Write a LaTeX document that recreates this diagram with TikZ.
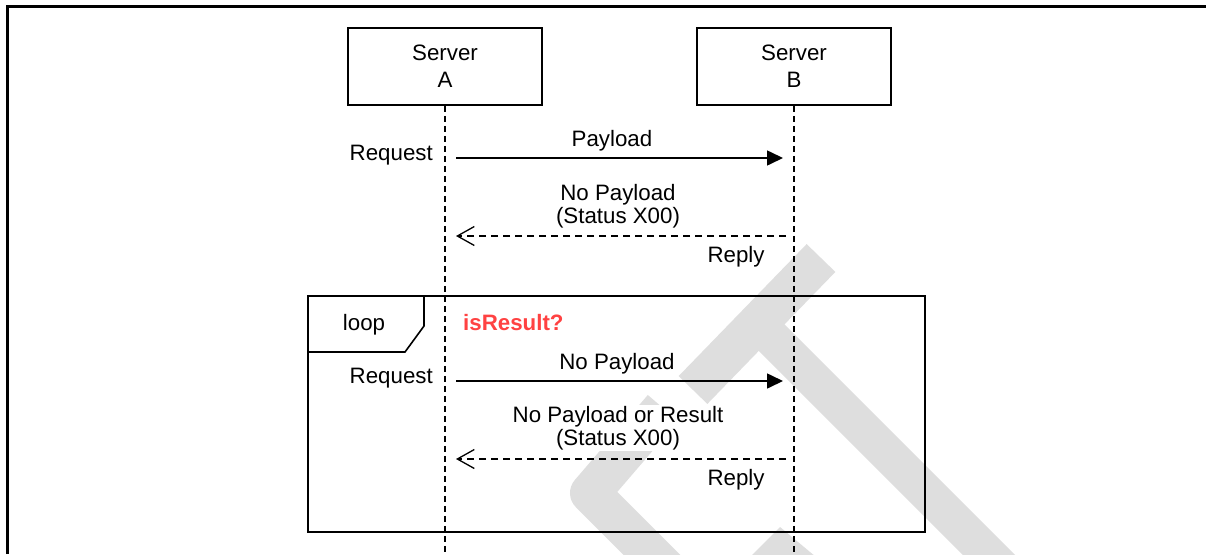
\documentclass[tikz,border=0pt]{standalone}
\usepackage{fontspec}
\setmainfont{Liberation Sans}
\usetikzlibrary{arrows.meta}
\definecolor{wm}{RGB}{222,222,222}
\definecolor{cond}{RGB}{255,66,66}
\begin{document}
\begin{tikzpicture}[x=1pt,y=-1pt,
  every node/.style={font=\fontsize{22.3}{23}\selectfont, inner sep=1pt},
  srv/.style={draw, line width=1.6pt, minimum width=194pt, minimum height=77pt, align=center, font=\fontsize{22.3}{27}\selectfont},
  life/.style={line width=1.6pt, dash pattern=on 6pt off 4pt},
  msg/.style={line width=1.6pt, -{Triangle[length=16pt,width=15pt]}},
  rep/.style={line width=1.6pt, dash pattern=on 7pt off 5pt, -{Straight Barb[length=17pt,width=19pt,line width=1.3pt]}},
  lbl/.style={fill=white, align=center},
  wmband/.style={wm, line width=40pt, line cap=butt}]
\useasboundingbox (0,0) rectangle (1206,554);
% watermark
\begin{scope}
\clip (0,0) rectangle (1206,554);
\draw[wmband] (821,258) -- (693,390);
\draw[wmband, line width=37pt] (757,323) -- (1010,576);
\draw[wmband, line width=40pt, line join=round] (663,408) -- (590,493) -- (690,593);
\fill[wm] (780,527) -- (745,562) -- (822,562) -- cycle;
\end{scope}
% outer frame
\draw[line width=2.2pt] (7.5,554) -- (7.5,6.5) -- (1206,6.5);
% servers
\node[srv] (A) at (445,66.5) {Server\\A};
\node[srv] (B) at (794,66.5) {Server\\B};
\coordinate (Aend) at (445,554);
\coordinate (Bend) at (794,554);
\draw[life] (A.south) -- (Aend);
\draw[life] (B.south) -- (Bend);
% first exchange
\coordinate (a1) at (456,158);
\coordinate (b1) at (783,158);
\draw[msg] (a1) -- (b1);
\node[anchor=east] (rq1) at (434,155.5) {Request};
\node[lbl] (p1) at (612,140.5) {Payload};
\coordinate (b2) at (786,236);
\coordinate (a2) at (456,236);
\draw[rep] (b2) -- (a2);
\node[lbl] (np1) at (618,206) {No Payload\\(Status X00)};
\node (rp1) at (736,256.5) {Reply};
% loop frame
\node[draw, line width=1.6pt, minimum width=617pt, minimum height=236pt, anchor=north west, inner sep=0pt] (loopbox) at (307,295) {};
\coordinate (t1) at (424,295);
\coordinate (t2) at (424,326);
\coordinate (t3) at (405,352);
\coordinate (t4) at (307,352);
\draw[line width=1.6pt] (t1) -- (t2) -- (t3) -- (t4);
\node (loop) at (364,324.5) {loop};
\node[anchor=west, text=cond, font=\fontsize{22.3}{23}\selectfont\bfseries, fill=white] (cnd) at (462,322.5) {isResult?};
% loop exchange
\coordinate (a3) at (456,381);
\coordinate (b3) at (783,381);
\draw[msg] (a3) -- (b3);
\node[anchor=east] (rq2) at (434,378.5) {Request};
\node[lbl] (p2) at (617,363.5) {No Payload};
\coordinate (b4) at (786,459);
\coordinate (a4) at (456,459);
\draw[rep] (b4) -- (a4);
\node[lbl] (np2) at (618,428) {No Payload or Result\\(Status X00)};
\node (rp2) at (736,479.5) {Reply};
\end{tikzpicture}
\end{document}
